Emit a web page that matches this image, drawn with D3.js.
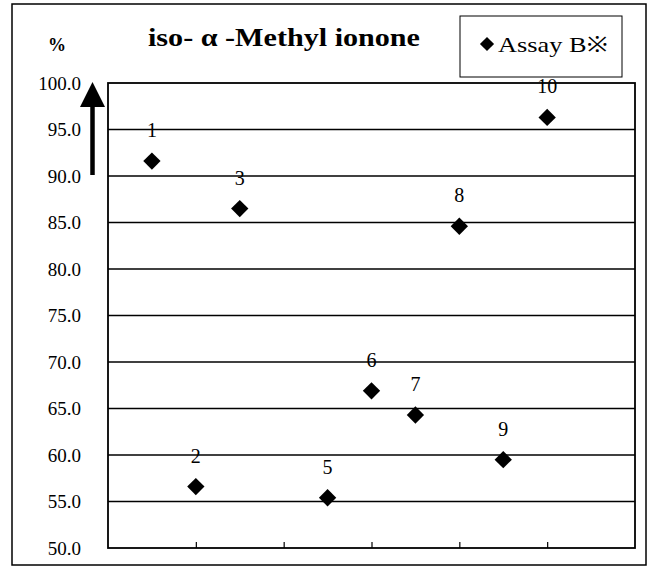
<!DOCTYPE html>
<html>
<head>
<meta charset="utf-8">
<script src="https://cdn.jsdelivr.net/npm/d3@7"></script>
<style>
  html, body { margin: 0; padding: 0; background: #fff; }
  svg { display: block; }
  svg text { font-family: "Liberation Serif", "Times New Roman", "DejaVu Serif", "Noto Serif", serif; }
</style>
</head>
<body>
<svg id="chart" width="654" height="576"></svg>
<script>
const pointLabels = ["1", "2", "3", "5", "6", "7", "8", "9", "10"];
const pointX = [1, 2, 3, 5, 6, 7, 8, 9, 10];
const assayB = [91.6, 56.6, 86.5, 55.4, 66.9, 64.3, 84.6, 59.5, 96.3];
const yTicks = [50, 55, 60, 65, 70, 75, 80, 85, 90, 95, 100];
const xTicks = [2, 4, 6, 8, 10];
const titleText = "iso- \u03B1 -Methyl ionone";
const legendText = "Assay B\u203B";
const unitText = "%";

const svg = d3.select("#chart");

const L = 108, R = 635, T = 83, B = 548;
const x = d3.scaleLinear().domain([0, 12]).range([L, R]);
const y = d3.scaleLinear().domain([50, 100]).range([B, T]);

// outer frame
svg.append("rect").attr("x", 12).attr("y", 4).attr("width", 634).attr("height", 561)
  .attr("fill", "none").attr("stroke", "#000").attr("stroke-width", 1.5);

// gridlines
svg.append("g").selectAll("line").data(yTicks.filter(v => v > 50 && v < 100)).join("line")
  .attr("x1", L).attr("x2", R).attr("y1", d => y(d)).attr("y2", d => y(d))
  .attr("stroke", "#000").attr("stroke-width", 1.5);

// plot frame
svg.append("rect").attr("x", L).attr("y", T).attr("width", R - L).attr("height", B - T)
  .attr("fill", "none").attr("stroke", "#000").attr("stroke-width", 1.8);

// y axis labels
const yAxis = d3.axisLeft(y).tickValues(yTicks).tickFormat(d3.format(".1f")).tickSize(0).tickPadding(0);
const gy = svg.append("g").attr("transform", `translate(81,0)`).call(yAxis);
gy.attr("font-family", null);
gy.select(".domain").remove();
gy.selectAll("text").style("font-size", "19px").attr("fill", "#000");

// x ticks (inward)
const xAxis = d3.axisTop(x).tickValues(xTicks).tickSize(6).tickFormat("");
const gx = svg.append("g").attr("transform", `translate(0,${B})`).call(xAxis);
gx.select(".domain").remove();
gx.selectAll("line").attr("stroke", "#000").attr("stroke-width", 1.2);

// points
const sym = d3.symbol().type(d3.symbolSquare).size(150);
const pts = pointX.map((px, i) => ({ x: px, v: assayB[i], label: pointLabels[i] }));
svg.append("g").selectAll("path").data(pts).join("path")
  .attr("d", sym)
  .attr("transform", d => `translate(${x(d.x)},${y(d.v)}) rotate(45)`)
  .attr("fill", "#000");

svg.append("g").selectAll("text").data(pts).join("text")
  .attr("x", d => x(d.x)).attr("y", d => y(d.v) - 24)
  .attr("text-anchor", "middle")
  .style("font-size", "20px").attr("fill", "#000")
  .text(d => d.label);

// arrow
svg.append("line").attr("x1", 92.5).attr("x2", 92.5).attr("y1", 104).attr("y2", 175)
  .attr("stroke", "#000").attr("stroke-width", 4.5);
svg.append("path").attr("d", "M92.5,82 L105,107 L80,107 Z").attr("fill", "#000");

// unit
svg.append("text").attr("x", 57).attr("y", 51).attr("text-anchor", "middle")
  .style("font-weight", "bold").style("font-size", "18px").text(unitText);

// title
svg.append("text").attr("x", 148).attr("y", 46)
  .style("font-weight", "bold").style("font-size", "25px")
  .attr("textLength", 272).attr("lengthAdjust", "spacingAndGlyphs")
  .text(titleText);

// legend
svg.append("rect").attr("x", 460).attr("y", 16).attr("width", 162).attr("height", 61)
  .attr("fill", "#fff").attr("stroke", "#000").attr("stroke-width", 1);
svg.append("path").attr("d", d3.symbol().type(d3.symbolSquare).size(100)())
  .attr("transform", "translate(487,44) rotate(45)").attr("fill", "#000");
svg.append("text").attr("x", 498).attr("y", 52)
  .style("font-size", "21px")
  .attr("textLength", 110).attr("lengthAdjust", "spacingAndGlyphs")
  .text(legendText);
</script>
</body>
</html>
